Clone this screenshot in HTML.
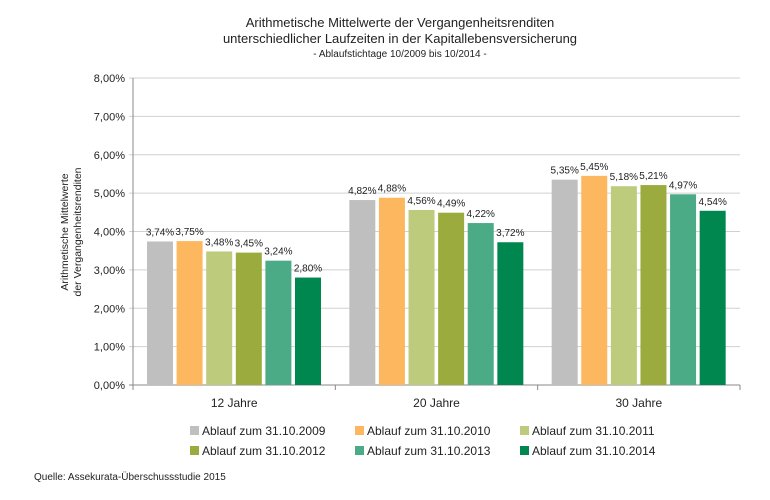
<!DOCTYPE html>
<html><head><meta charset="utf-8"><style>
body{margin:0;background:#fff;font-family:"Liberation Sans",sans-serif}
text{font-family:"Liberation Sans",sans-serif;fill:#222}
</style></head><body>
<svg id="c" width="770" height="495">
<text x="400" y="27" font-size="13" text-anchor="middle">Arithmetische Mittelwerte der Vergangenheitsrenditen</text>
<text x="400" y="43" font-size="13" text-anchor="middle">unterschiedlicher Laufzeiten in der Kapitallebensversicherung</text>
<text x="400" y="57" font-size="10" text-anchor="middle">- Ablaufstichtage 10/2009 bis 10/2014 -</text>
<text transform="translate(68,232) rotate(-90)" font-size="10.5" text-anchor="middle">Arithmetische Mittelwerte</text>
<text transform="translate(81,232) rotate(-90)" font-size="10.5" text-anchor="middle">der Vergangenheitsrenditen</text>
<text x="34" y="480" font-size="10">Quelle: Assekurata-Überschussstudie 2015</text>
<g id="plot"></g>
</svg>
<script>
const categories=["12 Jahre","20 Jahre","30 Jahre"];
const seriesNames=["Ablauf zum 31.10.2009","Ablauf zum 31.10.2010","Ablauf zum 31.10.2011","Ablauf zum 31.10.2012","Ablauf zum 31.10.2013","Ablauf zum 31.10.2014"];
const s2009=[3.74,4.82,5.35];
const s2010=[3.75,4.88,5.45];
const s2011=[3.48,4.56,5.18];
const s2012=[3.45,4.49,5.21];
const s2013=[3.24,4.22,4.97];
const s2014=[2.80,3.72,4.54];
const yTicks=[0,1,2,3,4,5,6,7,8];
const series=[s2009,s2010,s2011,s2012,s2013,s2014];
const colors=["#bfbfbf","#fdb75f","#bccb7c","#9bab3d","#4aab86","#00874f"];
const ns="http://www.w3.org/2000/svg";
const g=document.getElementById("plot");
const X0=133,X1=740,Y0=385,Y1=78,ymax=8;
const gw=(X1-X0)/categories.length;
const y=v=>Y0-(v/ymax)*(Y0-Y1);
const xb=(ci,si)=>X0+ci*gw+14+si*29.6;
const fmt=v=>v.toFixed(2).replace(".",",")+"%";
function mk(t,a){const e=document.createElementNS(ns,t);for(const k in a)e.setAttribute(k,a[k]);g.appendChild(e);return e;}
yTicks.forEach(t=>{
 const l=mk("line",{x1:X0-4,x2:X1,y1:y(t),y2:y(t),stroke:t===0?"#888":"#d0d0d0","stroke-width":1});
 
 
 const tx=mk("text",{x:X0-8,y:y(t)+4,"font-size":11,"text-anchor":"end"});tx.textContent=t.toFixed(2).replace(".",",")+"%";
 
 
});
const ax=mk("line",{x1:X0,x2:X0,y1:Y1,y2:Y0,stroke:"#888"});


for(let i=0;i<=categories.length;i++){const tk=mk("line",{x1:X0+i*gw,x2:X0+i*gw,y1:Y0,y2:Y0+5,stroke:"#888"});
 
 }
categories.forEach((c,ci)=>{
 const t=mk("text",{x:X0+ci*gw+gw/2,y:Y0+22,"font-size":12,"text-anchor":"middle"});t.textContent=c;
 
 
 series.forEach((s,si)=>{
  const r=mk("rect",{x:xb(ci,si),y:y(s[ci]),width:26,height:Y0-y(s[ci]),fill:colors[si]});
  
  
  const lb=mk("text",{x:xb(ci,si)+13,y:y(s[ci])-6,"font-size":10,"text-anchor":"middle"});lb.textContent=fmt(s[ci]);
  
  
 });
});
seriesNames.forEach((n,i)=>{
 const lx=190+(i%3)*165, ly=426+Math.floor(i/3)*20;
 const r=mk("rect",{x:lx,y:ly,width:9,height:9,fill:colors[i]});
 
 
 const t=mk("text",{x:lx+12,y:ly+9,"font-size":12});t.textContent=n;
 
 
});
</script>
</body></html>
